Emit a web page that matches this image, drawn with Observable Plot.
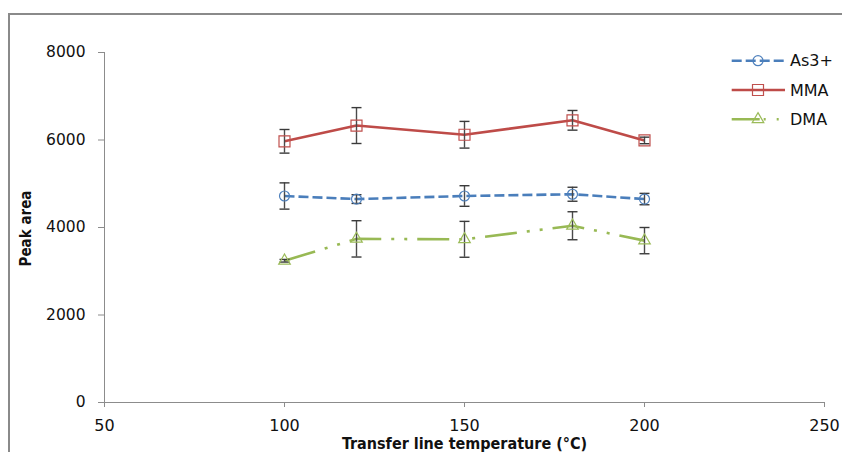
<!DOCTYPE html>
<html>
<head>
<meta charset="utf-8">
<script src="https://cdn.jsdelivr.net/npm/d3@7"></script>
<script src="https://cdn.jsdelivr.net/npm/@observablehq/plot@0.6"></script>
<style>
  html, body { margin: 0; padding: 0; background: #fff; }
  #wrap { position: relative; width: 842px; height: 452px; overflow: hidden; }
  #frame { position: absolute; left: 8px; top: 13px; right: -4px; bottom: -4px;
           border-left: 2px solid #8a8a8a; border-top: 2px solid #8a8a8a; }
  #legend { position: absolute; left: 720px; top: 45px; }
  svg { overflow: visible; }
</style>
</head>
<body>
<div id="wrap"><div id="frame"></div></div>
<script>
// Transfer line temperature (°C)
const temps = [100, 120, 150, 180, 200];

// Peak areas and their error bars
const as3 = [4720, 4650, 4720, 4760, 4650];
const as3Err = [300, 100, 235, 160, 130];
const mma = [5970, 6330, 6120, 6450, 5990];
const mmaErr = [270, 410, 305, 225, 75];
const dma = [3240, 3740, 3730, 4040, 3700];
const dmaErr = [30, 415, 410, 320, 300];

const seriesNames = ["As3+", "MMA", "DMA"];
const xTicks = [50, 100, 150, 200, 250];
const yTicks = [0, 2000, 4000, 6000, 8000];

const styles = {
  "As3+": {line: "#4a7ebb", mark: "#4f81bd", dash: "10,4", symbol: "circle", r: 5},
  "MMA": {line: "#be4b48", mark: "#c0504d", dash: null, symbol: "square", r: 6.2},
  "DMA": {line: "#98b954", mark: "#9bbb59", dash: "32,10,3,10,3,10", symbol: "triangle", r: 4.3}
};

const rows = [];
[[as3, as3Err], [mma, mmaErr], [dma, dmaErr]].forEach(([vals, errs], k) => {
  temps.forEach((t, i) => rows.push({series: seriesNames[k], t, v: vals[i], e: errs[i]}));
});

// horizontal cap for the error bars
const cap = {draw(ctx) { ctx.moveTo(-5, 0); ctx.lineTo(5, 0); }};
const plain = d3.format("d");

const marks = [
  Plot.ruleX([50], {stroke: "#8c8c8c"}),
  Plot.ruleY([0], {stroke: "#8c8c8c"}),
  Plot.axisX({ticks: xTicks, tickFormat: plain, tickSize: 5, tickPadding: 12, fontSize: 16, stroke: "#8c8c8c", fill: "#111", label: null}),
  Plot.axisY({ticks: yTicks, tickFormat: plain, tickSize: 6, tickPadding: 13, fontSize: 15.5, stroke: "#8c8c8c", fill: "#111", label: null})
];

for (const name of seriesNames) {
  const s = styles[name];
  const d = rows.filter(r => r.series === name);
  marks.push(Plot.line(d, {x: "t", y: "v", stroke: s.line, strokeWidth: 2.6, strokeDasharray: s.dash, strokeLinecap: "butt"}));
}
for (const name of seriesNames) {
  const d = rows.filter(r => r.series === name);
  marks.push(
    Plot.ruleX(d, {x: "t", y1: r => r.v - r.e, y2: r => r.v + r.e, stroke: "#4a4a4a", strokeWidth: 1.4}),
    Plot.dot(d, {x: "t", y: r => r.v + r.e, symbol: cap, stroke: "#3a3a3a", strokeWidth: 1.4}),
    Plot.dot(d, {x: "t", y: r => r.v - r.e, symbol: cap, stroke: "#3a3a3a", strokeWidth: 1.4})
  );
}
for (const name of seriesNames) {
  const s = styles[name];
  const d = rows.filter(r => r.series === name);
  marks.push(Plot.dot(d, {x: "t", y: "v", symbol: s.symbol, r: s.r, stroke: s.mark, strokeWidth: 1.2, fill: "none"}));
}

marks.push(
  Plot.text(["Transfer line temperature (°C)"], {frameAnchor: "bottom", dy: 46, fontSize: 16, fontWeight: "bold",
    fontFamily: "'Liberation Sans Narrow', 'DejaVu Sans Condensed', sans-serif", fill: "#111"}),
  Plot.text(["Peak area"], {frameAnchor: "left", textAnchor: "middle", dx: -78, dy: 1, rotate: -90, fontSize: 15, fontWeight: "bold",
    fontFamily: "'Liberation Sans Narrow', 'DejaVu Sans Condensed', sans-serif", fill: "#111"})
);

const chart = Plot.plot({
  width: 842,
  height: 452,
  marginLeft: 104,
  marginRight: 18,
  marginTop: 52,
  marginBottom: 50,
  style: {fontFamily: "'DejaVu Sans', sans-serif", background: "transparent"},
  x: {domain: [50, 250]},
  y: {domain: [0, 8000]},
  marks
});
chart.style.position = "absolute";
chart.style.left = "0";
chart.style.top = "0";
document.getElementById("wrap").appendChild(chart);

// Legend, to the right of the plot area
const legendDash = {"As3+": "10,4", "MMA": null, "DMA": "28,4,2,11,2,40"};
const lg = d3.select("#wrap").append("svg").attr("id", "legend").attr("width", 122).attr("height", 95);
seriesNames.forEach((name, i) => {
  const s = styles[name];
  const y = 15.7 + i * 29.3;
  const g = lg.append("g");
  g.append("line").attr("x1", 11.7).attr("x2", 65).attr("y1", y).attr("y2", y)
    .attr("stroke", s.line).attr("stroke-width", 2.6).attr("stroke-dasharray", legendDash[name]);
  g.append("path").attr("transform", `translate(38,${y})`)
    .attr("d", d3.symbol(s.symbol === "circle" ? d3.symbolCircle : s.symbol === "square" ? d3.symbolSquare : d3.symbolTriangle, Math.PI * s.r * s.r)())
    .attr("fill", "none").attr("stroke", s.mark).attr("stroke-width", 1.2);
  g.append("text").attr("x", 70).attr("y", y).attr("dy", "0.36em")
    .attr("font-family", "'DejaVu Sans', sans-serif").attr("font-size", 16).attr("fill", "#111").text(name);
});
</script>
</body>
</html>
